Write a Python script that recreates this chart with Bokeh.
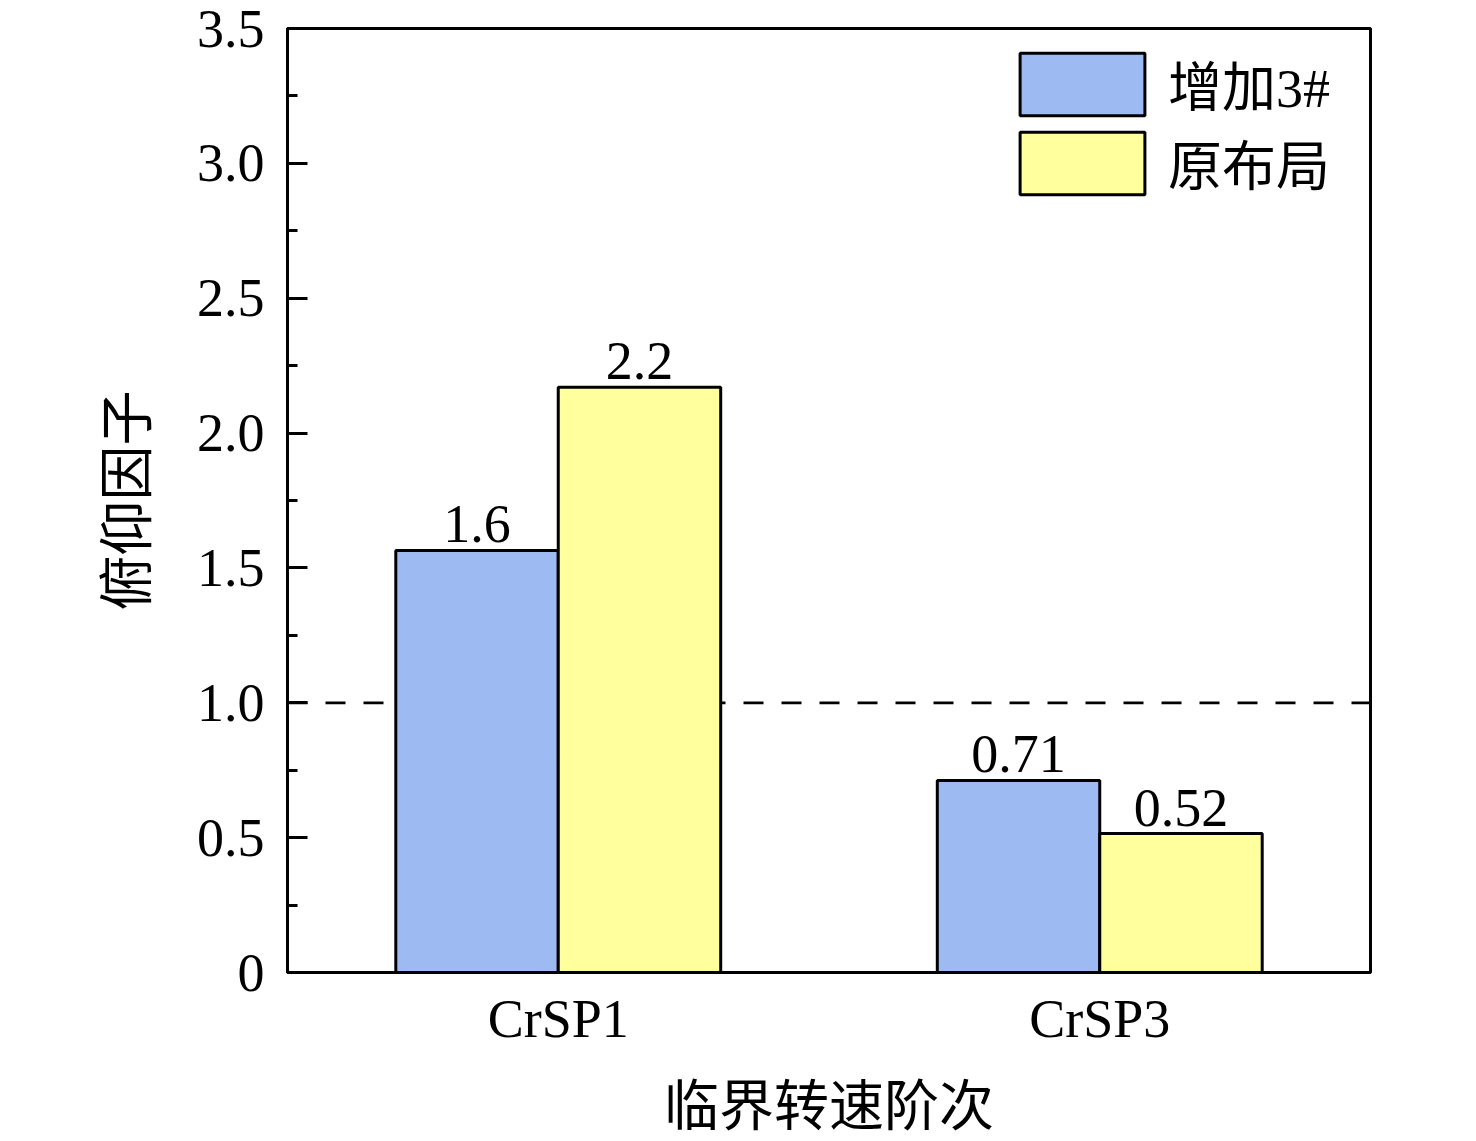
from bokeh.plotting import figure
from bokeh.models import (ColumnDataSource, FactorRange, Range1d, FixedTicker, Span,
                          Legend, LegendItem, LabelSet)
from bokeh.transform import dodge
from bokeh.embed import file_html
from bokeh.resources import INLINE

categories = ["CrSP1", "CrSP3"]
series_names = ["增加3#", "原布局"]
added_3 = [1.565, 0.712]
original = [2.17, 0.515]
ytick_values = [0, 0.5, 1.0, 1.5, 2.0, 2.5, 3.0, 3.5]
ytick_labels = ["0", "0.5", "1.0", "1.5", "2.0", "2.5", "3.0", "3.5"]
yminor_values = [0.25, 0.75, 1.25, 1.75, 2.25, 2.75, 3.25]
x_title = "临界转速阶次"
y_title = "俯仰因子"
threshold = 1.0

SERIF = "Liberation Serif, Noto Sans CJK SC"
CJK = "Noto Sans CJK SC"
BLUE = "#9dbbf2"
YELLOW = "#ffff9e"

src = ColumnDataSource(dict(
    cat=categories,
    a=added_3,
    b=original,
    a_txt=[f"{v:.2g}" for v in added_3],
    b_txt=[f"{v:.2g}" for v in original],
))

p = figure(x_range=FactorRange(factors=categories, range_padding=0),
           y_range=Range1d(0, 3.5),
           frame_width=1083, frame_height=944,
           min_border_left=287, min_border_right=90,
           min_border_top=28, min_border_bottom=153,
           output_backend="svg", toolbar_location=None)

p.xgrid.visible = False
p.ygrid.visible = False
p.outline_line_color = "black"
p.outline_line_width = 3
p.outline_line_alpha = 1
p.background_fill_color = "white"
p.border_fill_color = "white"

thr = Span(location=threshold, dimension="width", line_color="black",
           line_width=2.7, line_dash="20 18", level="underlay")
p.add_layout(thr)

ra = p.vbar(x=dodge("cat", -0.15, range=p.x_range), top="a", width=0.3, source=src,
            fill_color=BLUE, line_color="black", line_width=3)
rb = p.vbar(x=dodge("cat", 0.15, range=p.x_range), top="b", width=0.3, source=src,
            fill_color=YELLOW, line_color="black", line_width=3)

for col, txt, off in (("a", "a_txt", -0.15), ("b", "b_txt", 0.15)):
    p.add_layout(LabelSet(x=dodge("cat", off, range=p.x_range), y=col, text=txt, source=src,
                          text_align="center", text_baseline="bottom", y_offset=8,
                          text_font=SERIF, text_font_size="54px", text_color="black"))

# axes
yax = p.yaxis[0]
yax.ticker = FixedTicker(ticks=ytick_values, minor_ticks=yminor_values)
yax.major_label_overrides = {float(v): s for v, s in zip(ytick_values, ytick_labels)}
yax.major_tick_in = 20
yax.major_tick_out = 0
yax.minor_tick_in = 10
yax.minor_tick_out = 0
yax.major_tick_line_width = 3
yax.minor_tick_line_width = 3
yax.axis_line_width = 3
yax.major_label_text_font = SERIF
yax.major_label_text_font_size = "54px"
yax.major_label_text_color = "black"
yax.major_label_standoff = 23
yax.axis_label = y_title
yax.axis_label_text_font = CJK
yax.axis_label_text_font_style = "normal"
yax.axis_label_text_font_size = "55px"
yax.axis_label_text_color = "black"
yax.axis_label_standoff = 32

xax = p.xaxis[0]
xax.major_tick_in = 0
xax.major_tick_out = 0
xax.minor_tick_in = 0
xax.minor_tick_out = 0
xax.axis_line_width = 3
xax.major_label_text_font = SERIF
xax.major_label_text_font_size = "54px"
xax.major_label_text_color = "black"
xax.major_label_standoff = 16
xax.axis_label = x_title
xax.axis_label_text_font = CJK
xax.axis_label_text_font_style = "normal"
xax.axis_label_text_font_size = "55px"
xax.axis_label_text_color = "black"
xax.axis_label_standoff = 9

legend = Legend(items=[LegendItem(label=series_names[0], renderers=[ra]),
                       LegendItem(label=series_names[1], renderers=[rb])],
                location=(717, 770), orientation="vertical",
                glyph_width=156, glyph_height=78, spacing=0, padding=0, margin=0,
                label_standoff=8, label_text_font=SERIF, label_text_font_size="54px",
                label_text_color="black", border_line_color=None,
                background_fill_alpha=0)
p.add_layout(legend)

open("out.html", "w").write(file_html(p, INLINE))
